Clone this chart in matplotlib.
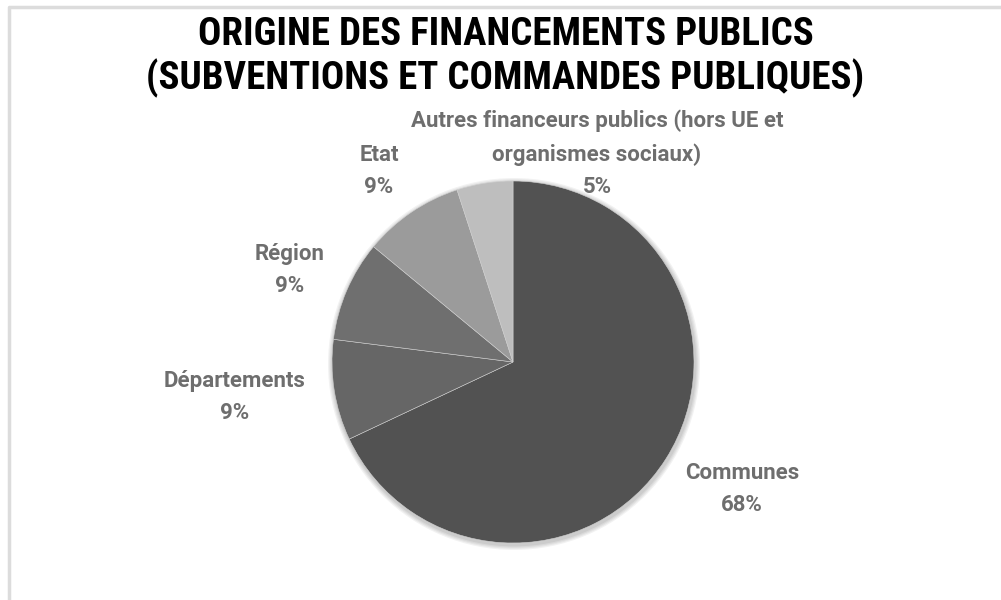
import matplotlib
matplotlib.use("Agg")
import matplotlib.pyplot as plt
from matplotlib import font_manager
from matplotlib.patches import Circle

# données
categories = ["Communes", "Départements", "Région", "Etat",
              "Autres financeurs publics (hors UE et\norganismes sociaux)"]
valeurs = [68, 9, 9, 9, 5]
couleurs = ["#525252", "#666666", "#6f6f6f", "#9b9b9b", "#bebebe"]

# position des étiquettes (pixels, origine en haut à gauche)
pos_etiquettes = [(742, 489), (235, 397), (290, 270), (379, 171), (597, 154)]

# police étroite pour le titre si dispo
dispo = {f.name for f in font_manager.fontManager.ttflist}
etroite = None
for nom in ["Liberation Sans Narrow", "Arial Narrow", "Roboto Condensed",
            "Open Sans Condensed", "DejaVu Sans Condensed"]:
    if nom in dispo:
        etroite = nom
        break
police_titre = [etroite or "Liberation Sans", "DejaVu Sans"]
t_titre = 28 if etroite else 23.5
police_etiq = ["Roboto", "DejaVu Sans"]

fig = plt.figure(figsize=(10.01, 6), dpi=100)
ax = fig.add_axes([0, 0, 1, 1])

# cadre gris clair (haut et gauche)
ax.plot([9, 9, 1001], [0, 593, 593], color="#dcdcdc", lw=2.5, solid_capstyle="butt")

cx, cy, r = 513, 600 - 362, 181

# ombre douce autour du camembert
for k, a in enumerate([0.05, 0.05, 0.05, 0.06]):
    ax.add_patch(Circle((cx + 1, cy - 2), r + 5 - k * 1.2, color="black", alpha=a, lw=0))

wedges, _ = ax.pie(valeurs, colors=couleurs, startangle=90, counterclock=False,
                   center=(cx, cy), radius=r, frame=True,
                   wedgeprops=dict(edgecolor="#d0d0d0", linewidth=0.4))
ax.set_xlim(0, 1001)
ax.set_ylim(0, 600)
ax.set_aspect("equal")
ax.axis("off")

for cat, val, (px, py) in zip(categories, valeurs, pos_etiquettes):
    ax.text(px, 600 - py, f"{cat}\n{val}%", ha="center", va="center",
            fontsize=16, fontweight="bold", color="#6e6e6e",
            family=police_etiq, linespacing=1.62)

fig.text(0.505, 1 - 57 / 600, "ORIGINE DES FINANCEMENTS PUBLICS\n(SUBVENTIONS ET COMMANDES PUBLIQUES)",
         ha="center", va="center", fontsize=t_titre, fontweight="bold", color="black",
         family=police_titre, linespacing=1.15)

fig.savefig("out.png", dpi=100)
